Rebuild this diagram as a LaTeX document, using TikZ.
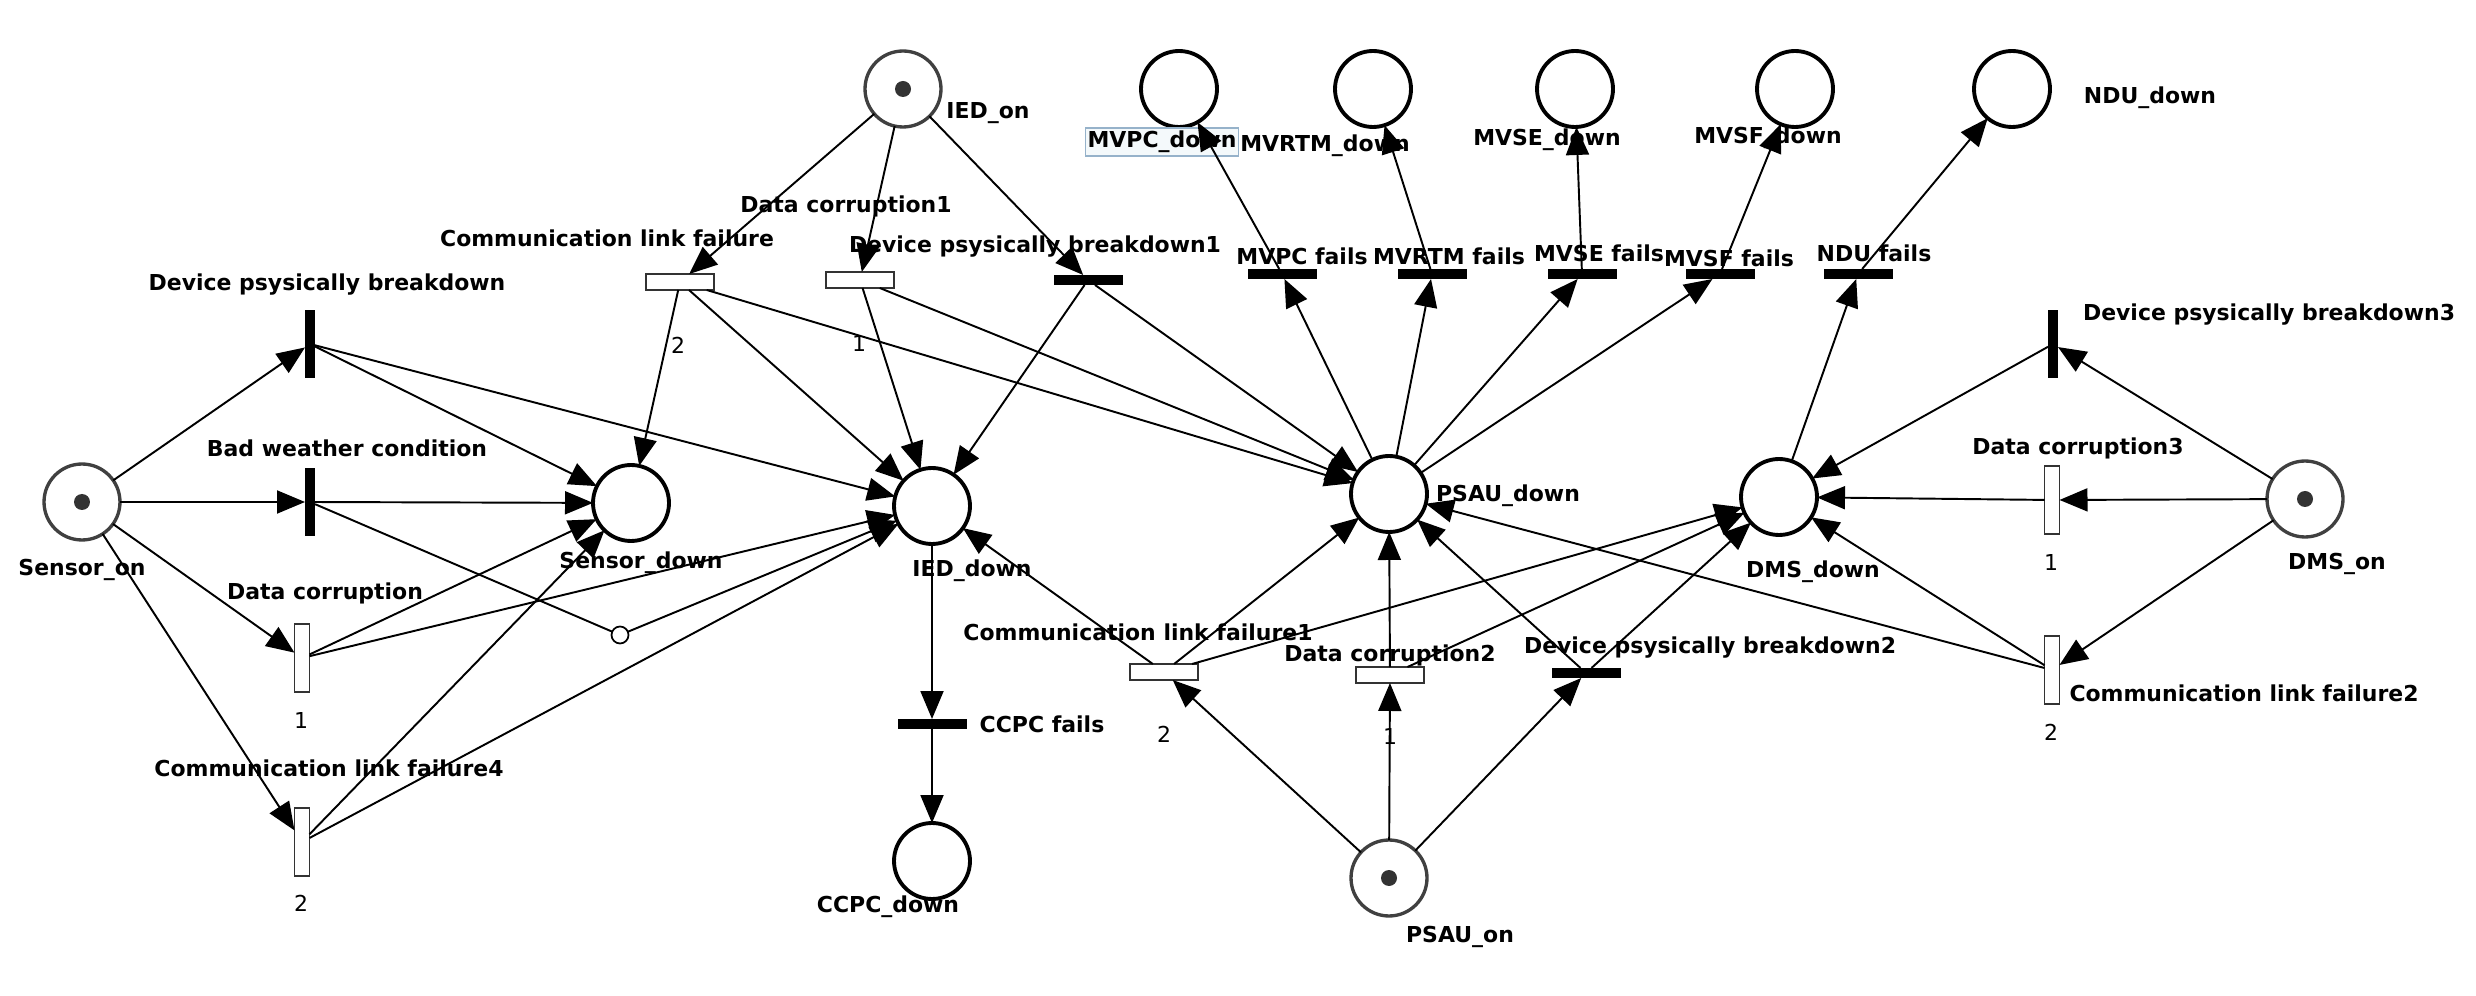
\documentclass[tikz,border=0pt]{standalone}
\usepackage{fontspec}
\setmainfont{DejaVu Sans}
\usetikzlibrary{arrows.meta}
\begin{document}
\begin{tikzpicture}[x=0.02cm,y=-0.02cm,
  every node/.style={inner sep=0pt, outer sep=0pt},
  place/.style={circle, draw=black, line width=2.2pt, minimum size=1.52cm, fill=white},
  mplace/.style={circle, draw=black!75, line width=1.9pt, minimum size=1.52cm, fill=white},
  tok/.style={circle, fill=black!80, minimum size=0.32cm},
  vbar/.style={rectangle, fill=black, minimum width=0.2cm, minimum height=1.36cm},
  hbar/.style={rectangle, fill=black, minimum width=1.38cm, minimum height=0.2cm},
  vbox/.style={rectangle, draw=black!80, line width=1pt, fill=white, minimum width=0.3cm, minimum height=1.36cm},
  hbox/.style={rectangle, draw=black!80, line width=1pt, fill=white, minimum width=1.36cm, minimum height=0.32cm},
  lbl/.style={font=\fontsize{12.5}{15}\selectfont\bfseries},
  num/.style={font=\fontsize{12.5}{15}\selectfont},
  arc/.style={line width=1.1pt, -{Triangle[length=0.56cm,width=0.46cm]}},
  plain/.style={line width=1.1pt},
  inhib/.style={circle, draw=black, line width=1pt, fill=white, minimum size=0.34cm},
]
\fill[white] (0,0) rectangle (2476,996);
\useasboundingbox (0,0) rectangle (2476,996);

% ---------- places ----------
\node[mplace] (son) at (82,502) {};
\node[tok] at (son) {};
\node[place] (sdown) at (631,503) {};
\node[mplace] (ion) at (903,89) {};
\node[tok] at (ion) {};
\node[place] (ied) at (932,506) {};
\node[place] (ccpc) at (932,861) {};
\node[place] (psau) at (1389,494) {};
\node[mplace] (pon) at (1389,878) {};
\node[tok] at (pon) {};
\node[place] (dms) at (1779,497) {};
\node[mplace] (don) at (2305,499) {};
\node[tok] at (don) {};
\node[place] (mvpc) at (1179,89) {};
\node[place] (mvrtm) at (1373,89) {};
\node[place] (mvse) at (1575,89) {};
\node[place] (mvsf) at (1795,89) {};
\node[place] (ndu) at (2012,89) {};

% ---------- transitions ----------
\node[vbar] (tdpb) at (310,344) {};
\node[vbar] (tbw) at (310,502) {};
\node[vbox] (tdc) at (302,658) {};
\node[vbox] (tclf4) at (302,842) {};
\node[hbox] (tclf) at (680,282) {};
\node[hbox] (tdc1) at (860,280) {};
\node[hbar] (tdpb1) at (1088,280) {};
\node[hbar] (tmvpc) at (1282,274) {};
\node[hbar] (tmvrtm) at (1432,274) {};
\node[hbar] (tmvse) at (1582,274) {};
\node[hbar] (tmvsf) at (1720,274) {};
\node[hbar] (tndu) at (1858,274) {};
\node[hbar] (tccpc) at (932,724) {};
\node[hbox] (tclf1) at (1164,672) {};
\node[hbox] (tdc2) at (1390,675) {};
\node[hbar] (tdpb2) at (1586,673) {};
\node[vbar] (tdpb3) at (2053,344) {};
\node[vbox] (tdc3) at (2052,500) {};
\node[vbox] (tclf2) at (2052,670) {};
\node[inhib] (inh) at (620,635) {};

% ---------- labels ----------
\node[lbl] (lson) at (82,570) {Sensor\_on};
\node[lbl] (lsdown) at (641,563) {Sensor\_down};
\node[lbl] (lion) at (988,113) {IED\_on};
\node[lbl] (lied) at (972,571) {IED\_down};
\node[lbl] (lccpc) at (888,907) {CCPC\_down};
\node[lbl] (ltccpc) at (1042,724) {CCPC fails};
\node[lbl] (lpsau) at (1508,496) {PSAU\_down};
\node[lbl] (lpon) at (1460,937) {PSAU\_on};
\node[lbl] (ldms) at (1813,572) {DMS\_down};
\node[lbl] (ldon) at (2337,564) {DMS\_on};
\node[lbl, draw={rgb,255:red,150;green,178;blue,202}, fill={rgb,255:red,244;green,249;blue,251},
      line width=0.6pt, inner xsep=1pt, minimum height=0.56cm] (lmvpc) at (1162,142) {MVPC\_down};
\node[lbl] (lmvrtm) at (1325,146) {MVRTM\_down};
\node[lbl] (lmvse) at (1547,140) {MVSE\_down};
\node[lbl] (lmvsf) at (1768,138) {MVSF\_down};
\node[lbl] (lndu) at (2150,98) {NDU\_down};
\node[lbl] (ltmvpc) at (1302,256) {MVPC fails};
\node[lbl] (ltmvrtm) at (1449,256) {MVRTM fails};
\node[lbl] (ltmvse) at (1599,253) {MVSE fails};
\node[lbl] (ltmvsf) at (1729,258) {MVSF fails};
\node[lbl] (ltndu) at (1874,253) {NDU fails};
\node[lbl] (ltdpb) at (327,285) {Device psysically breakdown};
\node[lbl] (ltbw) at (347,448) {Bad weather condition};
\node[lbl] (ltdc) at (325,593) {Data corruption};
\node[lbl] (ltclf4) at (329,768) {Communication link failure4};
\node[lbl] (ltclf) at (607,238) {Communication link failure};
\node[lbl] (ltdc1) at (846,206) {Data corruption1};
\node[lbl] (ltdpb1) at (1035,247) {Device psysically breakdown1};
\node[lbl] (ltclf1) at (1138,632) {Communication link failure1};
\node[lbl] (ltdc2) at (1390,655) {Data corruption2};
\node[lbl] (ltdpb2) at (1710,648) {Device psysically breakdown2};
\node[lbl] (ltdc3) at (2078,448) {Data corruption3};
\node[lbl] (ltclf2) at (2244,693) {Communication link failure2};
\node[lbl] (ltdpb3) at (2269,315) {Device psysically breakdown3};
\node[num] (ntdc) at (301,720) {1};
\node[num] (ntclf4) at (301,903) {2};
\node[num] (ntclf) at (678,345) {2};
\node[num] (ntdc1) at (859,343) {1};
\node[num] (ntclf1) at (1164,734) {2};
\node[num] (ntdc2) at (1390,736) {1};
\node[num] (ntdc3) at (2051,562) {1};
\node[num] (ntclf2) at (2051,732) {2};

% ---------- arcs: sensor ----------
\draw[arc] (son) -- (tdpb);
\draw[arc] (son) -- (tbw);
\draw[arc] (son) -- (tdc);
\draw[arc] (son) -- (tclf4);
\draw[arc] (tdpb) -- (sdown);
\draw[arc] (tdpb) -- (ied);
\draw[arc] (tbw) -- (sdown);
\draw[plain] (tbw) -- (inh);
\draw[arc] (inh) -- (ied);
\draw[arc] (tdc) -- (sdown);
\draw[arc] (tdc) -- (ied);
\draw[arc] (tclf4) -- (sdown);
\draw[arc] (tclf4) -- (ied);

% ---------- arcs: IED ----------
\draw[arc] (ion) -- (tclf);
\draw[arc] (ion) -- (tdc1);
\draw[arc] (ion) -- (tdpb1);
\draw[arc] (tclf) -- (sdown);
\draw[arc] (tclf) -- (ied);
\draw[arc] (tclf) -- (psau);
\draw[arc] (tdc1) -- (ied);
\draw[arc] (tdc1) -- (psau);
\draw[arc] (tdpb1) -- (ied);
\draw[arc] (tdpb1) -- (psau);
\draw[arc] (ied) -- (tccpc);
\draw[arc] (tccpc) -- (ccpc);

% ---------- arcs: PSAU ----------
\draw[arc] (pon) -- (tclf1);
\draw[arc] (pon) -- (tdc2);
\draw[arc] (pon) -- (tdpb2);
\draw[arc] (tclf1) -- (ied);
\draw[arc] (tclf1) -- (psau);
\draw[arc] (tclf1) -- (dms);
\draw[arc] (tdc2) -- (psau);
\draw[arc] (tdc2) -- (dms);
\draw[arc] (tdpb2) -- (psau);
\draw[arc] (tdpb2) -- (dms);
\draw[arc] (psau) -- (tmvpc);
\draw[arc] (psau) -- (tmvrtm);
\draw[arc] (psau) -- (tmvse);
\draw[arc] (psau) -- (tmvsf);
\draw[arc] (tmvpc) -- (mvpc);
\draw[arc] (tmvrtm) -- (mvrtm);
\draw[arc] (tmvse) -- (mvse);
\draw[arc] (tmvsf) -- (mvsf);

% ---------- arcs: DMS ----------
\draw[arc] (don) -- (tdpb3);
\draw[arc] (don) -- (tdc3);
\draw[arc] (don) -- (tclf2);
\draw[arc] (tdpb3) -- (dms);
\draw[arc] (tdc3) -- (dms);
\draw[arc] (tclf2) -- (dms);
\draw[arc] (tclf2) -- (psau);
\draw[arc] (dms) -- (tndu);
\draw[arc] (tndu) -- (ndu);
\end{tikzpicture}
\end{document}
